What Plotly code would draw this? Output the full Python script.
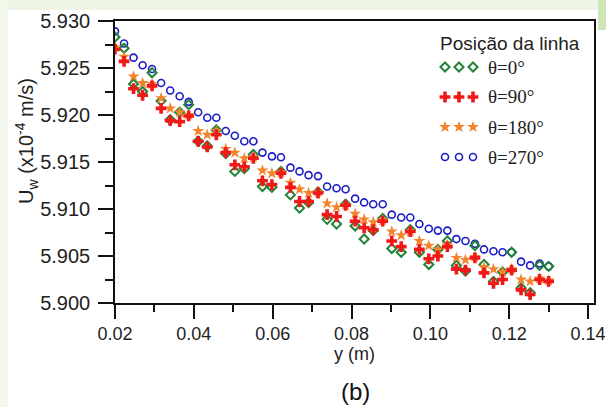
import plotly.graph_objects as go

# Sampling positions along the line (m)
y_pos = [0.0200, 0.0223, 0.0247, 0.0270, 0.0294, 0.0317, 0.0340, 0.0364,
         0.0387, 0.0411, 0.0434, 0.0457, 0.0481, 0.0504, 0.0528, 0.0551,
         0.0574, 0.0598, 0.0621, 0.0645, 0.0668, 0.0691, 0.0715, 0.0738,
         0.0762, 0.0785, 0.0809, 0.0832, 0.0855, 0.0879, 0.0902, 0.0926,
         0.0949, 0.0972, 0.0996, 0.1019, 0.1043, 0.1066, 0.1089, 0.1113,
         0.1136, 0.1160, 0.1183, 0.1206, 0.1230, 0.1253, 0.1277, 0.1300]

# Uw (x1e-4 m/s) for each line position
uw_0 = [5.9283, 5.9271, 5.9233, 5.9225, 5.9245, 5.9215, 5.9195, 5.9203,
        5.9211, 5.9172, 5.9167, 5.9184, 5.9159, 5.9140, 5.9143, 5.9158,
        5.9124, 5.9123, 5.9140, 5.9115, 5.9101, 5.9107, 5.9118, 5.9089,
        5.9084, 5.9105, 5.9082, 5.9068, 5.9077, 5.9090, 5.9058, 5.9054,
        5.9078, 5.9054, 5.9041, 5.9057, 5.9066, 5.9040, 5.9034, 5.9061,
        5.9041, 5.9023, 5.9033, 5.9054, 5.9016, 5.9011, 5.9040, 5.9039]

uw_90 = [5.9270, 5.9257, 5.9228, 5.9221, 5.9231, 5.9207, 5.9194, 5.9193,
         5.9199, 5.9172, 5.9166, 5.9179, 5.9160, 5.9147, 5.9145, 5.9154,
         5.9130, 5.9126, 5.9138, 5.9123, 5.9108, 5.9108, 5.9117, 5.9094,
         5.9092, 5.9104, 5.9087, 5.9080, 5.9078, 5.9087, 5.9066, 5.9060,
         5.9076, 5.9057, 5.9047, 5.9050, 5.9060, 5.9036, 5.9035, 5.9048,
         5.9032, 5.9021, 5.9025, 5.9035, 5.9014, 5.9009, 5.9025, 5.9023]

uw_180 = [5.9272, 5.9262, 5.9241, 5.9234, 5.9233, 5.9218, 5.9207, 5.9203,
          5.9200, 5.9183, 5.9179, 5.9183, 5.9164, 5.9160, 5.9154, 5.9155,
          5.9141, 5.9138, 5.9139, 5.9128, 5.9121, 5.9117, 5.9118, 5.9106,
          5.9102, 5.9104, 5.9095, 5.9089, 5.9086, 5.9088, 5.9076, 5.9072,
          5.9076, 5.9066, 5.9061, 5.9057, 5.9062, 5.9048, 5.9046, 5.9049,
          5.9038, 5.9036, 5.9033, 5.9036, 5.9025, 5.9023, 5.9026, 5.9024]

uw_270 = [5.9289, 5.9276, 5.9261, 5.9253, 5.9249, 5.9234, 5.9226, 5.9220,
          5.9214, 5.9203, 5.9197, 5.9197, 5.9183, 5.9178, 5.9172, 5.9172,
          5.9160, 5.9156, 5.9155, 5.9144, 5.9140, 5.9136, 5.9135, 5.9124,
          5.9122, 5.9121, 5.9111, 5.9107, 5.9105, 5.9105, 5.9094, 5.9091,
          5.9091, 5.9084, 5.9079, 5.9077, 5.9077, 5.9068, 5.9066, 5.9063,
          5.9057, 5.9055, 5.9054, 5.9054, 5.9044, 5.9040, 5.9042, 5.9039]

series_names = ["θ=0°", "θ=90°", "θ=180°", "θ=270°"]
legend_title = "Posição da linha"
y_title = "U<sub>w</sub> (x10<sup>-4</sup> m/s)"
x_title = "y (m)"
panel_label = "(b)"

x_ticks = [0.02, 0.04, 0.06, 0.08, 0.10, 0.12, 0.14]
x_tick_text = ["0.02", "0.04", "0.06", "0.08", "0.10", "0.12", "0.14"]
y_ticks = [5.900, 5.905, 5.910, 5.915, 5.920, 5.925, 5.930]
y_tick_text = ["5.900", "5.905", "5.910", "5.915", "5.920", "5.925", "5.930"]

X_RANGE = [0.02, 0.1415]
Y_RANGE = [5.900, 5.930]

W, H = 606, 407
ML, MR, MT, MB = 115, 12, 21, 104
PW, PH = W - ML - MR, H - MT - MB

styles = [
    dict(symbol="diamond-open", color="#1f8436", size=7, line=dict(width=2, color="#1f8436")),
    dict(symbol="cross", color="#f01818", size=9, line=dict(width=0)),
    dict(symbol="star", color="#f3842c", size=9, line=dict(width=0)),
    dict(symbol="circle-open", color="#1c1cc4", size=7, line=dict(width=1.6, color="#1c1cc4")),
]
series = [uw_0, uw_90, uw_180, uw_270]


# pixel position on the page -> paper fraction / axis value
def px_x(p):
    return (p - ML) / PW


def px_y(p):
    return (H - MB - p) / PH


def ax_x(p):
    return X_RANGE[0] + px_x(p) * (X_RANGE[1] - X_RANGE[0])


def ax_y(p):
    return Y_RANGE[0] + px_y(p) * (Y_RANGE[1] - Y_RANGE[0])


fig = go.Figure()

# draw order: circles first, pluses last
for idx in [3, 0, 2, 1]:
    fig.add_trace(go.Scatter(
        x=y_pos, y=series[idx], mode="markers", name=series_names[idx],
        marker=styles[idx], showlegend=False,
    ))

# key box: three symbols per row followed by the series name
row_px = [67, 97, 127, 157]
sym_px = [445, 459, 473]
for idx in range(4):
    fig.add_trace(go.Scatter(
        x=[ax_x(p) for p in sym_px], y=[ax_y(row_px[idx])] * 3,
        mode="markers", marker=styles[idx], showlegend=False, hoverinfo="skip",
    ))
    fig.add_annotation(
        x=px_x(486), y=px_y(row_px[idx]), xref="paper", yref="paper",
        text=series_names[idx], showarrow=False, xanchor="left", yanchor="middle",
        font=dict(family="Liberation Serif", size=19, color="#222"),
    )
fig.add_annotation(
    x=px_x(510), y=px_y(43), xref="paper", yref="paper", text=legend_title,
    showarrow=False, xanchor="center", yanchor="middle",
    font=dict(family="Liberation Sans", size=19, color="#222"),
)

axis_font = dict(family="Liberation Sans", size=18, color="#222")

# vertical axis title
fig.add_annotation(
    x=px_x(26), y=px_y(141), xref="paper", yref="paper", text=y_title,
    textangle=-90, showarrow=False, xanchor="center", yanchor="middle",
    font=dict(family="Liberation Sans", size=20, color="#222"),
)

# panel label below the axis title
fig.add_annotation(
    x=px_x(355), y=px_y(391), xref="paper", yref="paper",
    text=panel_label, showarrow=False, xanchor="center", yanchor="middle",
    font=dict(family="Liberation Sans", size=24, color="#111"),
)

# slide background tint around the white panel
shapes = [
    dict(type="rect", xref="paper", yref="paper", x0=px_x(0), x1=px_x(W),
         y0=px_y(10), y1=px_y(0), fillcolor="#eef5e4", line_width=0, layer="below"),
    dict(type="rect", xref="paper", yref="paper", x0=px_x(0), x1=px_x(8),
         y0=px_y(H), y1=px_y(0), fillcolor="#f3f8ec", line_width=0, layer="below"),
    dict(type="rect", xref="paper", yref="paper", x0=px_x(598), x1=px_x(W),
         y0=px_y(30), y1=px_y(0), fillcolor="#cfe5b5", line_width=0, layer="below"),
]

fig.update_layout(
    width=W, height=H,
    margin=dict(l=ML, r=MR, t=MT, b=MB, pad=0, autoexpand=False),
    paper_bgcolor="white", plot_bgcolor="white",
    shapes=shapes,
    xaxis=dict(
        range=X_RANGE, tickvals=x_ticks, ticktext=x_tick_text,
        ticks="outside", ticklen=14, tickwidth=1.5, tickcolor="#111",
        showline=True, linecolor="#111", linewidth=1.5, mirror=True,
        showgrid=False, zeroline=False, tickfont=axis_font, automargin=False,
        minor=dict(dtick=0.01, tick0=0.01, ticks="outside", ticklen=7,
                   tickwidth=1.5, tickcolor="#111", showgrid=False),
        title=dict(text=x_title, font=axis_font, standoff=4),
    ),
    yaxis=dict(
        range=Y_RANGE, tickvals=y_ticks, ticktext=y_tick_text,
        ticks="outside", ticklen=15, tickwidth=1.5, tickcolor="#111",
        showline=True, linecolor="#111", linewidth=1.5, mirror=True,
        showgrid=False, zeroline=False, automargin=False,
        tickfont=dict(family="Liberation Sans", size=20, color="#222"),
        ticklabelstandoff=4,
        minor=dict(dtick=0.0025, tick0=5.9025, ticks="outside", ticklen=8,
                   tickwidth=1.5, tickcolor="#111", showgrid=False),
    ),
    showlegend=False,
)

fig.write_html("out.html")
